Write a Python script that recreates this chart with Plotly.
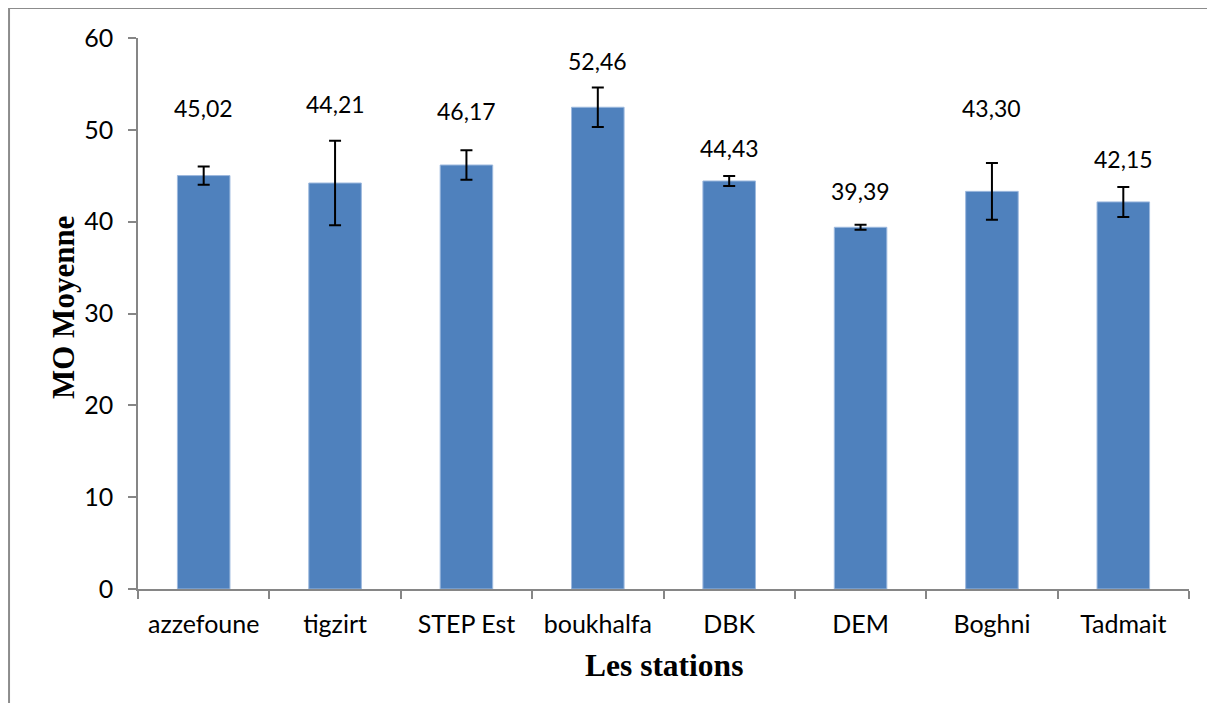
import plotly.graph_objects as go

stations = ["azzefoune", "tigzirt", "STEP Est", "boukhalfa", "DBK", "DEM", "Boghni", "Tadmait"]
mo_mean = [45.02, 44.21, 46.17, 52.46, 44.43, 39.39, 43.30, 42.15]
mo_err = [1.0, 4.6, 1.6, 2.15, 0.55, 0.27, 3.1, 1.63]
value_labels = ["45,02", "44,21", "46,17", "52,46", "44,43", "39,39", "43,30", "42,15"]
label_y = [52.4, 52.85, 52.1, 57.45, 48.0, 43.3, 52.4, 46.8]

fig = go.Figure()
fig.add_trace(go.Bar(
    x=stations, y=mo_mean,
    marker=dict(color="#4F81BD", line=dict(color="#9DB9DE", width=1)),
    error_y=dict(type="data", array=mo_err, visible=True, color="black", thickness=2, width=6),
    width=0.4,
))

for s, ly, t in zip(stations, label_y, value_labels):
    fig.add_annotation(x=s, y=ly, text=t, showarrow=False, xref="x", yref="y",
                       xanchor="center", yanchor="middle",
                       font=dict(family="Lato", size=23, color="black"))

fig.add_annotation(x=-0.0704, y=0.51, xref="paper", yref="paper", text="<b>MO Moyenne</b>",
                   textangle=-90, showarrow=False, xanchor="center", yanchor="middle",
                   font=dict(family="Liberation Serif", size=31, color="black"))
fig.add_annotation(x=0.5005, y=-0.138, xref="paper", yref="paper", text="<b>Les stations</b>",
                   showarrow=False, xanchor="center", yanchor="middle",
                   font=dict(family="Liberation Serif", size=31.5, color="black"))

# outer chart frame (only top and left edges are inside the picture)
fig.add_shape(type="line", xref="paper", yref="paper", x0=-0.1227, y0=1.0544, x1=1.08, y1=1.0544,
              line=dict(color="#8C8C8C", width=2), layer="below")
fig.add_shape(type="line", xref="paper", yref="paper", x0=-0.1227, y0=-0.35, x1=-0.1227, y1=1.0544,
              line=dict(color="#8C8C8C", width=2), layer="below")

fig.update_layout(
    width=1199, height=695,
    margin=dict(l=130, r=18, t=30, b=114),
    paper_bgcolor="white", plot_bgcolor="white",
    showlegend=False,
    font=dict(family="Lato", size=21, color="black"),
    xaxis=dict(type="category", showline=True, linecolor="#868686", linewidth=1.5,
               ticks="outside", tickson="boundaries", ticklen=8, tickcolor="#868686", tickwidth=1.5,
               showgrid=False, tickfont=dict(family="Lato", size=25, color="black"),
               ticklabelstandoff=12, automargin=False),
    yaxis=dict(range=[0, 60], dtick=10, showline=True, linecolor="#868686", linewidth=1.5,
               ticks="outside", ticklen=8, tickcolor="#868686", tickwidth=1.5,
               showgrid=False, zeroline=False, tickfont=dict(family="Lato", size=25, color="black"),
               ticklabelstandoff=10, automargin=False),
)

fig.write_html("out.html")
